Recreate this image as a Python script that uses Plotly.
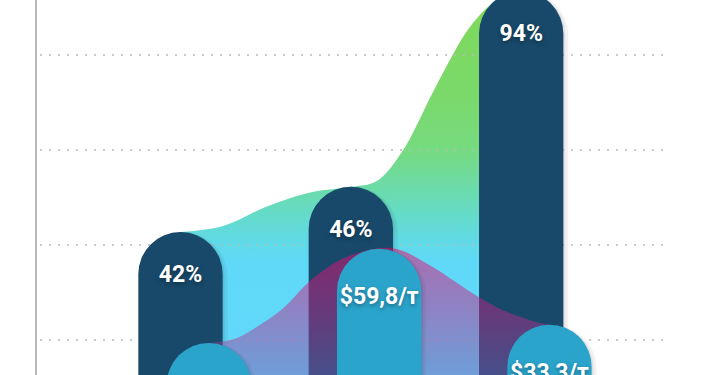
import plotly.graph_objects as go

# ---- data ----
categories = [0, 1, 2]
share_labels = ["42%", "46%", "94%"]
price_labels = ["", "$59,8/т", "$33,3/т"]
share_heights = [53.4, 65.3, 116.7]     # dark pill bars (chart units)
price_heights = [24.2, 49.0, 29.0]      # light pill bars (chart units)

green_x = [0.0, 0.25, 0.5, 0.75, 1.0, 1.15, 1.3, 1.5, 1.7, 1.85, 2.0]
green_y = [53.4, 55.0, 60.0, 63.7, 65.3, 66.8, 74.5, 91.8, 107.4, 114.2, 117.1]

purple_x = [0.17, 0.32, 0.44, 0.60, 0.76, 0.94, 1.17, 1.29, 1.48, 1.75, 1.89, 2.09, 2.17]
purple_y = [24.2, 25.3, 28.2, 33.2, 40.5, 46.1, 49.2, 48.7, 44.2, 36.3, 32.9, 29.7, 29.0]

grid_values = [25, 50, 75, 100]

# ---- styling ----
NAVY = "#18496a"
LIGHT = "#2ba4cb"
XR = [-0.8424, 2.8559]
YR = [15.79, 114.47]
BAR_W = 0.495
PRICE_SHIFT = 0.166
PX_PER_UNIT = 375 / (YR[1] - YR[0])
PX_PER_X = 630 / (XR[1] - XR[0])

label_font = dict(family="Roboto", size=23, color="white", weight=700,
                  shadow="0px 2px 4px rgba(0,0,0,0.35)")

fig = go.Figure()

# layer 1: green area + gridlines
fig.add_trace(go.Scatter(
    x=green_x, y=green_y, mode="lines", line=dict(width=0, shape="spline", smoothing=1),
    fill="tozeroy",
    fillgradient=dict(type="vertical", start=YR[0], stop=YR[1], colorscale=[
        [0.0, "#62d8fa"], [0.3, "#60d9f8"], [0.36, "#61dae6"], [0.42, "#64dbcc"],
        [0.5, "#6bdba8"], [0.6, "#76da80"], [0.75, "#7bd96a"], [1.0, "#7fd95a"]]),
    hoverinfo="skip", showlegend=False, xaxis="x", yaxis="y"))

for g in grid_values:
    fig.add_trace(go.Scatter(
        x=[XR[0] + 3 / PX_PER_X, XR[1]], y=[g, g], mode="lines",
        line=dict(color="rgba(185,185,185,0.75)", width=2, dash="2px,7px"),
        hoverinfo="skip", showlegend=False, xaxis="x", yaxis="y"))

def shadow_bars(heights, shift, yaxis):
    out = []
    for dpx, alpha in [(2, 0.07), (5, 0.05)]:
        out.append(go.Bar(
            x=categories, y=heights, width=BAR_W + dpx / PX_PER_X,
            offset=shift - BAR_W / 2,
            marker=dict(color=f"rgba(0,0,0,{alpha})", cornerradius="50%", line=dict(width=0)),
            hoverinfo="skip", showlegend=False, xaxis="x", yaxis=yaxis))
    return out

# layer 2: navy bars + translucent purple area
for t in shadow_bars(share_heights, 0, "y2"):
    fig.add_trace(t)
fig.add_trace(go.Bar(
    x=categories, y=share_heights, width=BAR_W, offset=-BAR_W / 2,
    marker=dict(color=NAVY, cornerradius="50%", line=dict(width=0)),
    hoverinfo="skip", showlegend=False, xaxis="x", yaxis="y2"))
fig.add_trace(go.Scatter(
    x=purple_x, y=purple_y, mode="lines", line=dict(width=0, shape="spline", smoothing=1),
    fill="tozeroy",
    fillgradient=dict(type="vertical", start=YR[0], stop=49.2, colorscale=[
        [0.0, "rgba(127,86,175,0.45)"], [0.5, "rgba(190,40,140,0.48)"],
        [1.0, "rgba(235,10,110,0.52)"]]),
    hoverinfo="skip", showlegend=False, xaxis="x", yaxis="y2"))

# layer 3: light bars + labels
for t in shadow_bars(price_heights, PRICE_SHIFT, "y3"):
    fig.add_trace(t)
fig.add_trace(go.Bar(
    x=categories, y=price_heights, width=BAR_W, offset=PRICE_SHIFT - BAR_W / 2,
    marker=dict(color=LIGHT, cornerradius="50%", line=dict(width=0)),
    hoverinfo="skip", showlegend=False, xaxis="x", yaxis="y3"))

share_label_off = 44 / PX_PER_UNIT
price_label_off = 49 / PX_PER_UNIT
fig.add_trace(go.Scatter(
    x=categories, y=[h - share_label_off for h in share_heights], mode="text",
    text=share_labels, textfont=label_font, textposition="middle center",
    hoverinfo="skip", showlegend=False, xaxis="x", yaxis="y3"))
fig.add_trace(go.Scatter(
    x=[c + PRICE_SHIFT for c in categories], y=[h - price_label_off for h in price_heights],
    mode="text", text=price_labels, textfont=label_font, textposition="middle center",
    hoverinfo="skip", showlegend=False, xaxis="x", yaxis="y3"))

fig.update_layout(
    width=710, height=375, margin=dict(l=37, r=43, t=0, b=0),
    paper_bgcolor="white", plot_bgcolor="white",
    barmode="overlay", showlegend=False,
    xaxis=dict(range=XR, visible=False, fixedrange=True),
    yaxis=dict(range=YR, showgrid=False, zeroline=False, showticklabels=False, ticks="",
               showline=True, linecolor="#b8b8b8", linewidth=1.5, fixedrange=True),
    yaxis2=dict(range=YR, overlaying="y", visible=False, fixedrange=True),
    yaxis3=dict(range=YR, overlaying="y", visible=False, fixedrange=True),
)

fig.write_html("out.html", config={"displayModeBar": False})
